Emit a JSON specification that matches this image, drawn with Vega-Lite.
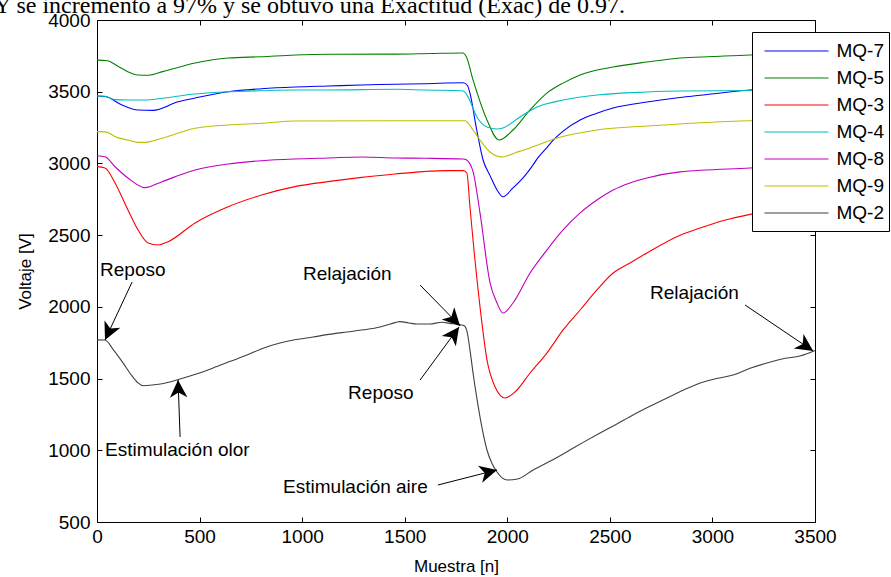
{
  "$schema": "https://vega.github.io/schema/vega-lite/v6.json",
  "autosize": {"type": "none"},
  "width": 718,
  "height": 502,
  "padding": {"left": 97, "top": 20, "right": 76, "bottom": 55},
  "background": "white",
  "title": {"text": "Y se incrementó a 97% y se obtuvo una Exactitud (Exac) de 0.97.", "anchor": "start", "frame": "group", "font": "Liberation Serif", "fontSize": 24, "fontWeight": "normal", "color": "black", "baseline": "alphabetic", "offset": 8, "dx": -103, "dy": 34},
  "config": {
    "view": {"stroke": null},
    "axis": {"grid": false, "tickSize": -5, "tickColor": "black", "domainColor": "black", "labelColor": "black", "titleColor": "black", "labelFont": "Liberation Sans", "titleFont": "Liberation Sans", "labelFontSize": 19, "titleFontSize": 17, "titleFontWeight": "normal", "tickWidth": 1, "domainWidth": 1, "format": "d"}
  },
  "datasets": {
    "curves": [
      {"s":"MQ-7","x":0,"v":3470},{"s":"MQ-7","x":40,"v":3467},{"s":"MQ-7","x":122,"v":3407},{"s":"MQ-7","x":200,"v":3372},{"s":"MQ-7","x":273,"v":3370},{"s":"MQ-7","x":395,"v":3430},{"s":"MQ-7","x":478,"v":3456},{"s":"MQ-7","x":639,"v":3500},{"s":"MQ-7","x":803,"v":3521},{"s":"MQ-7","x":965,"v":3533},{"s":"MQ-7","x":1126,"v":3540},{"s":"MQ-7","x":1290,"v":3547},{"s":"MQ-7","x":1453,"v":3552},{"s":"MQ-7","x":1600,"v":3556},{"s":"MQ-7","x":1785,"v":3562},{"s":"MQ-7","x":1805,"v":3545},{"s":"MQ-7","x":1818,"v":3490},{"s":"MQ-7","x":1851,"v":3233},{"s":"MQ-7","x":1882,"v":3024},{"s":"MQ-7","x":1916,"v":2915},{"s":"MQ-7","x":1950,"v":2815},{"s":"MQ-7","x":1979,"v":2768},{"s":"MQ-7","x":2028,"v":2830},{"s":"MQ-7","x":2077,"v":2900},{"s":"MQ-7","x":2111,"v":2960},{"s":"MQ-7","x":2150,"v":3040},{"s":"MQ-7","x":2193,"v":3110},{"s":"MQ-7","x":2223,"v":3160},{"s":"MQ-7","x":2272,"v":3225},{"s":"MQ-7","x":2355,"v":3303},{"s":"MQ-7","x":2437,"v":3350},{"s":"MQ-7","x":2516,"v":3386},{"s":"MQ-7","x":2681,"v":3428},{"s":"MQ-7","x":2842,"v":3460},{"s":"MQ-7","x":2940,"v":3475},{"s":"MQ-7","x":3183,"v":3512},{"s":"MQ-7","x":3350,"v":3525},{"s":"MQ-7","x":3500,"v":3532},
      {"s":"MQ-5","x":0,"v":3720},{"s":"MQ-5","x":50,"v":3716},{"s":"MQ-5","x":100,"v":3680},{"s":"MQ-5","x":150,"v":3640},{"s":"MQ-5","x":200,"v":3617},{"s":"MQ-5","x":250,"v":3615},{"s":"MQ-5","x":320,"v":3640},{"s":"MQ-5","x":478,"v":3700},{"s":"MQ-5","x":640,"v":3735},{"s":"MQ-5","x":800,"v":3744},{"s":"MQ-5","x":965,"v":3756},{"s":"MQ-5","x":1126,"v":3761},{"s":"MQ-5","x":1453,"v":3762},{"s":"MQ-5","x":1623,"v":3766},{"s":"MQ-5","x":1784,"v":3770},{"s":"MQ-5","x":1800,"v":3745},{"s":"MQ-5","x":1833,"v":3582},{"s":"MQ-5","x":1901,"v":3303},{"s":"MQ-5","x":1960,"v":3163},{"s":"MQ-5","x":2028,"v":3233},{"s":"MQ-5","x":2111,"v":3373},{"s":"MQ-5","x":2193,"v":3490},{"s":"MQ-5","x":2272,"v":3560},{"s":"MQ-5","x":2355,"v":3617},{"s":"MQ-5","x":2516,"v":3672},{"s":"MQ-5","x":2681,"v":3707},{"s":"MQ-5","x":2842,"v":3735},{"s":"MQ-5","x":3000,"v":3745},{"s":"MQ-5","x":3183,"v":3756},{"s":"MQ-5","x":3500,"v":3762},
      {"s":"MQ-3","x":0,"v":2978},{"s":"MQ-3","x":39,"v":2968},{"s":"MQ-3","x":88,"v":2864},{"s":"MQ-3","x":151,"v":2675},{"s":"MQ-3","x":200,"v":2536},{"s":"MQ-3","x":249,"v":2445},{"s":"MQ-3","x":297,"v":2431},{"s":"MQ-3","x":346,"v":2454},{"s":"MQ-3","x":478,"v":2585},{"s":"MQ-3","x":639,"v":2698},{"s":"MQ-3","x":803,"v":2780},{"s":"MQ-3","x":965,"v":2838},{"s":"MQ-3","x":1126,"v":2873},{"s":"MQ-3","x":1290,"v":2903},{"s":"MQ-3","x":1453,"v":2926},{"s":"MQ-3","x":1590,"v":2943},{"s":"MQ-3","x":1706,"v":2950},{"s":"MQ-3","x":1786,"v":2950},{"s":"MQ-3","x":1803,"v":2933},{"s":"MQ-3","x":1818,"v":2698},{"s":"MQ-3","x":1833,"v":2466},{"s":"MQ-3","x":1867,"v":2001},{"s":"MQ-3","x":1901,"v":1630},{"s":"MQ-3","x":1940,"v":1443},{"s":"MQ-3","x":1989,"v":1365},{"s":"MQ-3","x":2040,"v":1410},{"s":"MQ-3","x":2111,"v":1539},{"s":"MQ-3","x":2193,"v":1678},{"s":"MQ-3","x":2272,"v":1839},{"s":"MQ-3","x":2355,"v":1978},{"s":"MQ-3","x":2437,"v":2118},{"s":"MQ-3","x":2516,"v":2236},{"s":"MQ-3","x":2598,"v":2306},{"s":"MQ-3","x":2681,"v":2376},{"s":"MQ-3","x":2842,"v":2500},{"s":"MQ-3","x":2940,"v":2550},{"s":"MQ-3","x":3050,"v":2600},{"s":"MQ-3","x":3183,"v":2645},{"s":"MQ-3","x":3350,"v":2685},{"s":"MQ-3","x":3500,"v":2710},
      {"s":"MQ-4","x":0,"v":3470},{"s":"MQ-4","x":40,"v":3468},{"s":"MQ-4","x":88,"v":3445},{"s":"MQ-4","x":150,"v":3442},{"s":"MQ-4","x":234,"v":3442},{"s":"MQ-4","x":317,"v":3454},{"s":"MQ-4","x":478,"v":3484},{"s":"MQ-4","x":639,"v":3500},{"s":"MQ-4","x":803,"v":3507},{"s":"MQ-4","x":965,"v":3512},{"s":"MQ-4","x":1126,"v":3512},{"s":"MQ-4","x":1453,"v":3517},{"s":"MQ-4","x":1600,"v":3512},{"s":"MQ-4","x":1780,"v":3507},{"s":"MQ-4","x":1795,"v":3495},{"s":"MQ-4","x":1809,"v":3463},{"s":"MQ-4","x":1852,"v":3324},{"s":"MQ-4","x":1901,"v":3254},{"s":"MQ-4","x":1950,"v":3240},{"s":"MQ-4","x":1979,"v":3247},{"s":"MQ-4","x":2062,"v":3324},{"s":"MQ-4","x":2145,"v":3393},{"s":"MQ-4","x":2272,"v":3442},{"s":"MQ-4","x":2437,"v":3477},{"s":"MQ-4","x":2681,"v":3498},{"s":"MQ-4","x":2842,"v":3505},{"s":"MQ-4","x":3183,"v":3508},{"s":"MQ-4","x":3500,"v":3512},
      {"s":"MQ-8","x":0,"v":3054},{"s":"MQ-8","x":39,"v":3047},{"s":"MQ-8","x":88,"v":2977},{"s":"MQ-8","x":151,"v":2898},{"s":"MQ-8","x":234,"v":2831},{"s":"MQ-8","x":317,"v":2873},{"s":"MQ-8","x":478,"v":2954},{"s":"MQ-8","x":639,"v":2996},{"s":"MQ-8","x":803,"v":3019},{"s":"MQ-8","x":965,"v":3031},{"s":"MQ-8","x":1126,"v":3038},{"s":"MQ-8","x":1290,"v":3045},{"s":"MQ-8","x":1453,"v":3038},{"s":"MQ-8","x":1600,"v":3036},{"s":"MQ-8","x":1786,"v":3031},{"s":"MQ-8","x":1800,"v":3025},{"s":"MQ-8","x":1833,"v":2943},{"s":"MQ-8","x":1867,"v":2655},{"s":"MQ-8","x":1916,"v":2167},{"s":"MQ-8","x":1950,"v":2027},{"s":"MQ-8","x":1979,"v":1957},{"s":"MQ-8","x":2028,"v":2027},{"s":"MQ-8","x":2111,"v":2236},{"s":"MQ-8","x":2193,"v":2396},{"s":"MQ-8","x":2272,"v":2536},{"s":"MQ-8","x":2355,"v":2655},{"s":"MQ-8","x":2437,"v":2745},{"s":"MQ-8","x":2516,"v":2815},{"s":"MQ-8","x":2598,"v":2864},{"s":"MQ-8","x":2681,"v":2899},{"s":"MQ-8","x":2842,"v":2941},{"s":"MQ-8","x":3183,"v":2968},{"s":"MQ-8","x":3500,"v":2990},
      {"s":"MQ-9","x":0,"v":3222},{"s":"MQ-9","x":40,"v":3220},{"s":"MQ-9","x":100,"v":3180},{"s":"MQ-9","x":151,"v":3163},{"s":"MQ-9","x":200,"v":3147},{"s":"MQ-9","x":234,"v":3147},{"s":"MQ-9","x":317,"v":3175},{"s":"MQ-9","x":478,"v":3245},{"s":"MQ-9","x":639,"v":3268},{"s":"MQ-9","x":803,"v":3280},{"s":"MQ-9","x":965,"v":3296},{"s":"MQ-9","x":1453,"v":3298},{"s":"MQ-9","x":1794,"v":3298},{"s":"MQ-9","x":1810,"v":3280},{"s":"MQ-9","x":1833,"v":3233},{"s":"MQ-9","x":1867,"v":3163},{"s":"MQ-9","x":1916,"v":3080},{"s":"MQ-9","x":1974,"v":3045},{"s":"MQ-9","x":2040,"v":3075},{"s":"MQ-9","x":2111,"v":3108},{"s":"MQ-9","x":2242,"v":3177},{"s":"MQ-9","x":2437,"v":3233},{"s":"MQ-9","x":2681,"v":3261},{"s":"MQ-9","x":2842,"v":3275},{"s":"MQ-9","x":3183,"v":3298},{"s":"MQ-9","x":3500,"v":3300},
      {"s":"MQ-2","x":0,"v":1770},{"s":"MQ-2","x":39,"v":1769},{"s":"MQ-2","x":80,"v":1700},{"s":"MQ-2","x":127,"v":1609},{"s":"MQ-2","x":170,"v":1520},{"s":"MQ-2","x":200,"v":1470},{"s":"MQ-2","x":224,"v":1450},{"s":"MQ-2","x":300,"v":1460},{"s":"MQ-2","x":405,"v":1497},{"s":"MQ-2","x":480,"v":1530},{"s":"MQ-2","x":566,"v":1574},{"s":"MQ-2","x":650,"v":1620},{"s":"MQ-2","x":731,"v":1664},{"s":"MQ-2","x":810,"v":1712},{"s":"MQ-2","x":892,"v":1748},{"s":"MQ-2","x":970,"v":1772},{"s":"MQ-2","x":1053,"v":1790},{"s":"MQ-2","x":1130,"v":1808},{"s":"MQ-2","x":1219,"v":1825},{"s":"MQ-2","x":1300,"v":1840},{"s":"MQ-2","x":1380,"v":1860},{"s":"MQ-2","x":1430,"v":1880},{"s":"MQ-2","x":1477,"v":1897},{"s":"MQ-2","x":1520,"v":1888},{"s":"MQ-2","x":1560,"v":1880},{"s":"MQ-2","x":1623,"v":1880},{"s":"MQ-2","x":1680,"v":1893},{"s":"MQ-2","x":1720,"v":1885},{"s":"MQ-2","x":1770,"v":1875},{"s":"MQ-2","x":1790,"v":1868},{"s":"MQ-2","x":1805,"v":1820},{"s":"MQ-2","x":1818,"v":1700},{"s":"MQ-2","x":1835,"v":1520},{"s":"MQ-2","x":1853,"v":1351},{"s":"MQ-2","x":1875,"v":1170},{"s":"MQ-2","x":1901,"v":1002},{"s":"MQ-2","x":1925,"v":910},{"s":"MQ-2","x":1950,"v":849},{"s":"MQ-2","x":1975,"v":808},{"s":"MQ-2","x":2000,"v":793},{"s":"MQ-2","x":2050,"v":800},{"s":"MQ-2","x":2126,"v":863},{"s":"MQ-2","x":2210,"v":925},{"s":"MQ-2","x":2291,"v":990},{"s":"MQ-2","x":2370,"v":1055},{"s":"MQ-2","x":2452,"v":1120},{"s":"MQ-2","x":2530,"v":1180},{"s":"MQ-2","x":2613,"v":1246},{"s":"MQ-2","x":2700,"v":1310},{"s":"MQ-2","x":2779,"v":1365},{"s":"MQ-2","x":2860,"v":1420},{"s":"MQ-2","x":2940,"v":1469},{"s":"MQ-2","x":3020,"v":1500},{"s":"MQ-2","x":3100,"v":1525},{"s":"MQ-2","x":3180,"v":1570},{"s":"MQ-2","x":3266,"v":1609},{"s":"MQ-2","x":3350,"v":1640},{"s":"MQ-2","x":3427,"v":1657},{"s":"MQ-2","x":3500,"v":1695}
    ],
    "labels": [
      {"t":"Reposo","x":15,"v":2257},
      {"t":"Estimulación olor","x":39,"v":1002},
      {"t":"Relajación","x":1004,"v":2229},
      {"t":"Reposo","x":1224,"v":1399},
      {"t":"Estimulación aire","x":907,"v":744},
      {"t":"Relajación","x":2696,"v":2097}
    ],
    "arrows": [
      {"x":171,"v":2173,"x2":39,"v2":1769,"ang":205},
      {"x":405,"v":1093,"x2":395,"v2":1490,"ang":-2},
      {"x":1575,"v":2152,"x2":1770,"v2":1867,"ang":136},
      {"x":1575,"v":1490,"x2":1765,"v2":1860,"ang":36},
      {"x":1662,"v":758,"x2":1950,"v2":863,"ang":76},
      {"x":3159,"v":2013,"x2":3491,"v2":1692,"ang":124}
    ]
  },
  "layer": [
    {
      "data": {"name": "curves"},
      "mark": {"type": "line", "strokeWidth": 1.1, "interpolate": "monotone"},
      "encoding": {
        "x": {"field": "x", "type": "quantitative", "scale": {"domain": [0, 3500], "nice": false, "zero": false},
              "axis": {"orient": "bottom", "values": [0,500,1000,1500,2000,2500,3000,3500], "title": "Muestra [n]", "labelPadding": 10, "titlePadding": 12, "labelFlush": false, "labelOverlap": false}},
        "y": {"field": "v", "type": "quantitative", "scale": {"domain": [500, 4000], "nice": false, "zero": false},
              "axis": {"orient": "left", "values": [500,1000,1500,2000,2500,3000,3500,4000], "title": "Voltaje [V]", "labelPadding": 12, "titlePadding": 13, "labelFlush": false, "labelOverlap": false}},
        "color": {"field": "s", "type": "nominal",
                  "scale": {"domain": ["MQ-7","MQ-5","MQ-3","MQ-4","MQ-8","MQ-9","MQ-2"], "range": ["#0000ff","#008000","#ff0000","#00bfbf","#bf00bf","#bfbf00","#404040"]},
                  "legend": {"orient": "none", "legendX": 655, "legendY": 12, "title": null, "symbolType": "M-2.48,0L2.48,0M0,-0.82M0,0.82", "symbolSize": 666, "symbolStrokeWidth": 1.2, "rowPadding": 0, "padding": 5, "symbolOffset": 25.5, "labelOffset": 26, "labelFontSize": 19, "labelFont": "Liberation Sans", "labelColor": "black", "fillColor": "white", "strokeColor": "black", "cornerRadius": 0}}
      }
    },
    {
      "data": {"name": "arrows"},
      "mark": {"type": "rule", "stroke": "black", "strokeWidth": 1},
      "encoding": {
        "x": {"field": "x", "type": "quantitative", "scale": {"domain": [0, 3500], "nice": false, "zero": false},
              "axis": {"orient": "top", "values": [0,500,1000,1500,2000,2500,3000,3500], "labels": false, "title": null}},
        "y": {"field": "v", "type": "quantitative", "scale": {"domain": [500, 4000], "nice": false, "zero": false},
              "axis": {"orient": "right", "values": [500,1000,1500,2000,2500,3000,3500,4000], "labels": false, "title": null}},
        "x2": {"field": "x2"},
        "y2": {"field": "v2"}
      }
    },
    {
      "data": {"name": "arrows"},
      "mark": {"type": "point", "shape": "M0,0 L-0.5,1 L0,0.72 L0.5,1 Z", "filled": true, "opacity": 1, "fill": "black", "strokeWidth": 0, "size": 1225},
      "encoding": {
        "x": {"field": "x2", "type": "quantitative", "axis": null},
        "y": {"field": "v2", "type": "quantitative", "axis": null},
        "angle": {"field": "ang", "type": "quantitative", "scale": null}
      }
    },
    {
      "data": {"name": "labels"},
      "mark": {"type": "text", "align": "left", "baseline": "middle", "font": "Liberation Sans", "fontSize": 19, "fill": "black"},
      "encoding": {
        "x": {"field": "x", "type": "quantitative", "axis": null},
        "y": {"field": "v", "type": "quantitative", "axis": null},
        "text": {"field": "t"}
      }
    }
  ],
  "resolve": {"axis": {"x": "independent", "y": "independent"}}
}
